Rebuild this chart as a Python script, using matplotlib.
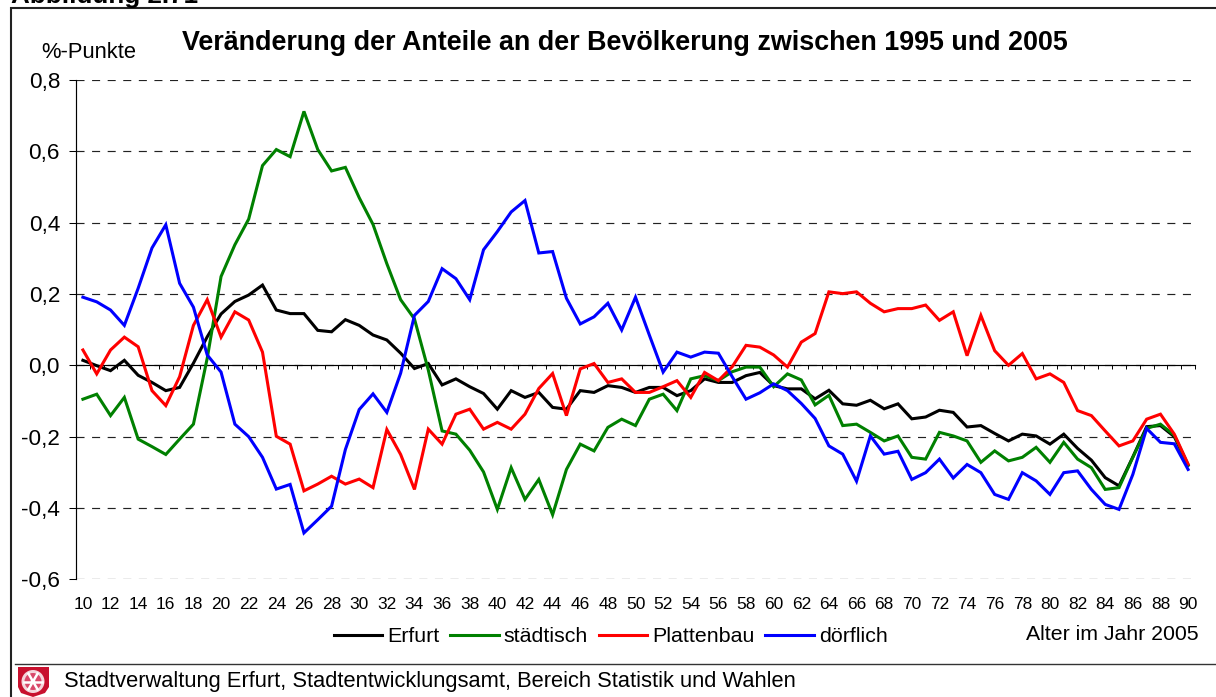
#!/usr/bin/env python3
"""Veraenderung der Anteile an der Bevoelkerung zwischen 1995 und 2005."""

import matplotlib

matplotlib.use("Agg")
import matplotlib.pyplot as plt
import numpy as np
from matplotlib.patches import Circle, Polygon

ages = list(range(10, 91))
tick_ages = list(range(10, 91, 2))
y_ticks = [-0.6, -0.4, -0.2, 0.0, 0.2, 0.4, 0.6, 0.8]

erfurt = [
    .014, -.001, -.015, .014, -.028, -.048, -.071, -.062, .006, .080,
    .144, .179, .197, .225, .155, .145, .145, .098, .094, .128,
    .112, .085, .071, .034, -.009, .005, -.055, -.038, -.060, -.079,
    -.123, -.071, -.090, -.076, -.118, -.123, -.071, -.076, -.057, -.062,
    -.076, -.062, -.062, -.085, -.071, -.038, -.048, -.048, -.029, -.020,
    -.057, -.066, -.066, -.094, -.070, -.108, -.112, -.098, -.122, -.108,
    -.150, -.145, -.126, -.132, -.173, -.169, -.191, -.212, -.193, -.198,
    -.221, -.193, -.233, -.266, -.315, -.338, -.257, -.172, -.169, -.200,
    -.280,
]
staedtisch = [
    -.095, -.081, -.141, -.090, -.207, -.228, -.250, -.207, -.165, .020,
    .249, .338, .410, .560, .605, .585, .712, .605, .545, .555,
    .470, .395, .285, .184, .130, -.013, -.184, -.193, -.238, -.299,
    -.404, -.287, -.376, -.320, -.419, -.292, -.221, -.240, -.174, -.151,
    -.169, -.095, -.081, -.127, -.038, -.029, -.043, -.018, -.005, -.005,
    -.060, -.024, -.041, -.111, -.084, -.169, -.165, -.188, -.212, -.198,
    -.258, -.263, -.188, -.198, -.212, -.272, -.240, -.268, -.258, -.230,
    -.272, -.216, -.263, -.287, -.348, -.343, -.258, -.177, -.165, -.196,
    -.280,
]
plattenbau = [
    .043, -.024, .043, .079, .052, -.071, -.113, -.032, .112, .184,
    .079, .150, .127, .037, -.199, -.221, -.352, -.333, -.311, -.333,
    -.319, -.343, -.180, -.250, -.348, -.179, -.221, -.137, -.123, -.179,
    -.160, -.179, -.137, -.065, -.023, -.141, -.010, .005, -.048, -.038,
    -.076, -.076, -.060, -.043, -.090, -.020, -.043, -.004, .056, .051,
    .029, -.005, .065, .089, .206, .201, .206, .174, .150, .159,
    .159, .169, .126, .150, .027, .140, .041, .000, .033, -.038,
    -.024, -.048, -.127, -.141, -.184, -.226, -.212, -.151, -.137, -.193,
    -.277,
]
doerflich = [
    .191, .178, .155, .112, .216, .329, .394, .230, .163, .029,
    -.019, -.165, -.200, -.258, -.347, -.334, -.470, -.433, -.395, -.236,
    -.124, -.080, -.132, -.022, .140, .179, .271, .243, .184, .324,
    .375, .430, .462, .315, .319, .188, .116, .136, .174, .099,
    .191, .085, -.019, .037, .023, .037, .034, -.032, -.095, -.077,
    -.052, -.071, -.107, -.149, -.226, -.249, -.325, -.198, -.249, -.241,
    -.320, -.301, -.263, -.316, -.278, -.301, -.362, -.376, -.301, -.324,
    -.362, -.301, -.296, -.348, -.390, -.404, -.306, -.177, -.216, -.220,
    -.292,
]

series_names = ["Erfurt", "städtisch", "Plattenbau", "dörflich"]
series_colors = ["#000000", "#008000", "#FF0000", "#0000FF"]

W, H = 1216, 697
plt.rcParams["font.family"] = ["Liberation Sans", "DejaVu Sans"]

fig = plt.figure(figsize=(W / 100, H / 100), dpi=100)

# overlay in pixel coordinates for the frame, footer and logo
bg = fig.add_axes([0, 0, 1, 1], zorder=0)
bg.set_xlim(0, W)
bg.set_ylim(H, 0)
bg.axis("off")
bg.plot([11, 11, W], [H, 7.5, 7.5], color="#222222", lw=1.5, solid_joinstyle="miter")
bg.plot([15, W], [664, 664], color="#333333", lw=1.0)
bg.text(11, 2.5, "Abbildung 2.71", fontsize=18.7, fontweight="bold", va="baseline")
bg.text(64, 682, "Stadtverwaltung Erfurt, Stadtentwicklungsamt, Bereich Statistik und Wahlen",
        fontsize=15.75, va="center")

# Erfurt logo: red shield with a white wheel
bg.add_patch(Polygon([(18, 667), (49, 667), (49, 687), (45, 693), (33, 697),
                      (21, 693), (18, 687)], closed=True, color="#C8102E", lw=0))
bg.add_patch(Circle((33, 681.5), 11.5, color="#F4D5DB", lw=0))
bg.add_patch(Circle((33, 681.5), 8.5, color="#D9486A", lw=0))
for ang in np.deg2rad([0, 60, 120]):
    dx, dy = 9 * np.cos(ang), 9 * np.sin(ang)
    bg.plot([33 - dx, 33 + dx], [681.5 - dy, 681.5 + dy], color="white", lw=1.8)
bg.add_patch(Circle((33, 681.5), 2.4, color="white", lw=0))

ax = fig.add_axes([76 / W, 1 - 579.3 / H, (1195 - 76) / W, (579.3 - 80) / H], zorder=1)
ax.patch.set_alpha(0)

ax.set_yticks(y_ticks)
ax.set_yticklabels([f"{v:.1f}".replace(".", ",") for v in y_ticks], fontsize=16.2)
ax.yaxis.grid(True, color="#222222", lw=0.85, linestyle=(0, (6.8, 6.4)))
ax.set_axisbelow(True)
ax.tick_params(axis="y", length=5, width=0.75, pad=6.5)

for name, color, values in zip(series_names, series_colors,
                               [erfurt, staedtisch, plattenbau, doerflich]):
    ax.plot(ages, values, color=color, lw=2.2, label=name, solid_joinstyle="miter",
            clip_on=False, zorder=3)

ax.set_xlim(9.5, 90.5)
ax.set_ylim(-0.6, 0.8)
ax.set_xticks(tick_ages)
ax.set_xticklabels([str(a) for a in tick_ages])
ax.set_xticks(np.arange(9.5, 91), minor=True)
ax.tick_params(axis="x", which="major", length=0, pad=167, labelsize=12.5)
ax.tick_params(axis="x", which="minor", direction="out", length=3.2, width=0.7)

ax.spines["top"].set_visible(False)
ax.spines["right"].set_visible(False)
ax.spines["bottom"].set_position(("data", 0))
ax.spines["bottom"].set_linewidth(0.85)
ax.spines["left"].set_linewidth(0.85)

fig.text(624.5 / W, 1 - 42.5 / H, "Veränderung der Anteile an der Bevölkerung zwischen 1995 und 2005",
         fontsize=19.35, fontweight="bold", ha="center", va="center")
fig.text(41 / W, 1 - 53 / H, "%-Punkte", fontsize=15.8, va="center")
fig.text(1199 / W, 1 - 634 / H, "Alter im Jahr 2005", fontsize=15.3, ha="right", va="center")

ax.legend(loc="center left", bbox_to_anchor=(334 / W, 1 - 637 / H),
          bbox_transform=fig.transFigure, ncol=4, frameon=False, fontsize=15.4,
          handlelength=2.25, handletextpad=0.25, columnspacing=0.5,
          borderpad=0, borderaxespad=0)

fig.savefig("out.png", dpi=100)
